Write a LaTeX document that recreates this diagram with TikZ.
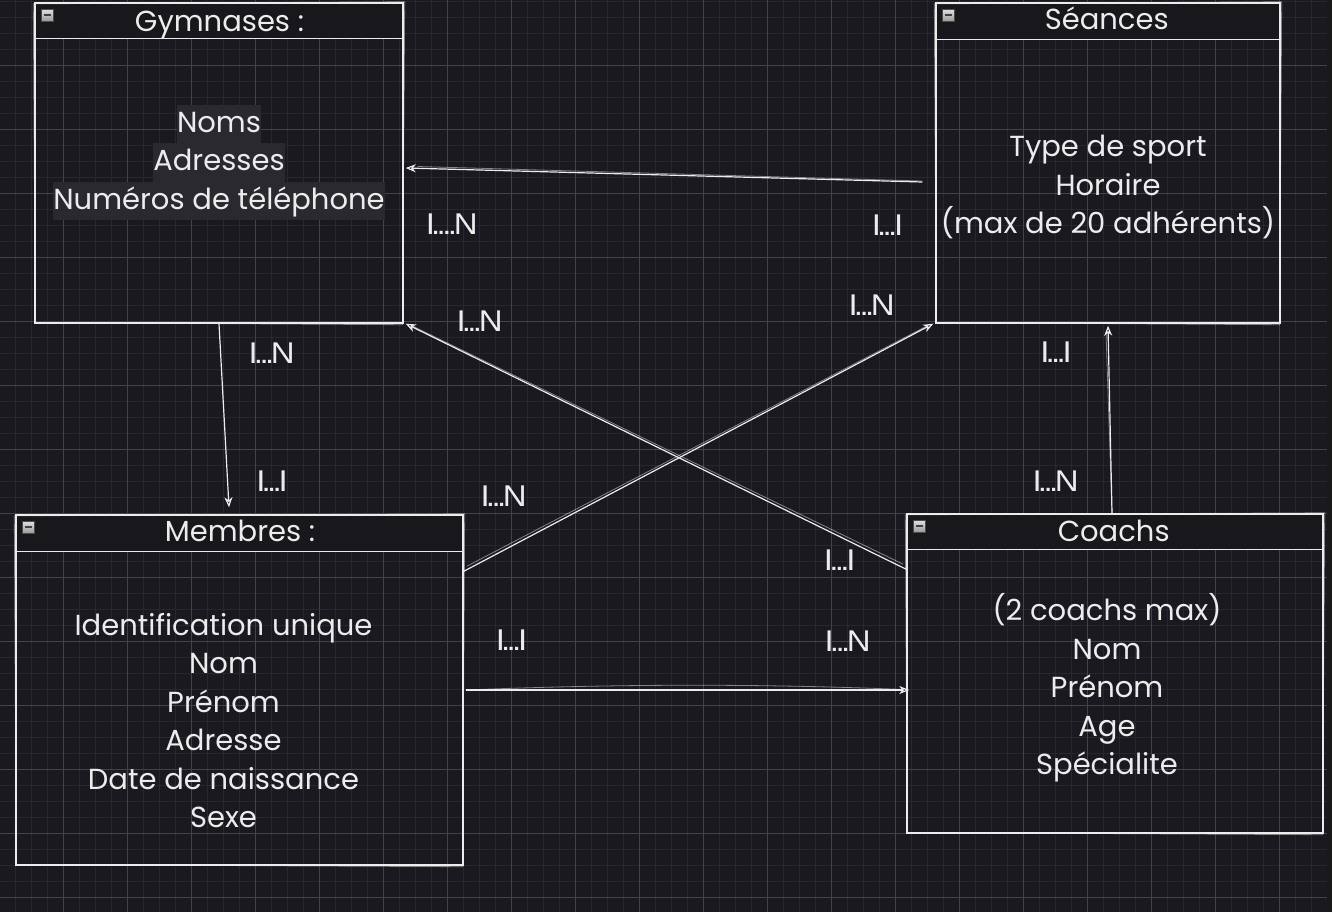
\documentclass[tikz,border=0pt]{standalone}
\usepackage{fontspec}
\setmainfont{Poppins}
\newfontfamily\labfont[FakeStretch=1.1]{Liberation Sans}
\usetikzlibrary{arrows.meta,calc}
\definecolor{bg}{HTML}{1A191F}
\definecolor{gmin}{HTML}{28272D}
\definecolor{gmaj}{HTML}{434249}
\definecolor{ink}{HTML}{ECECEC}
\definecolor{hlc}{HTML}{2A2930}
\definecolor{hdr}{HTML}{18171C}
\newcommand\lst{\rule[-11pt]{0pt}{38.5pt}}
\newcommand\hlt[1]{{\setlength{\fboxsep}{0pt}\colorbox{hlc}{\lst #1}}}
\newcommand\dts{\kern-0.13em.\kern-0.12em.\kern-0.12em.\kern-0.11em}
\newcommand\dtf{\kern-0.13em.\kern-0.12em.\kern-0.12em.\kern-0.12em.\kern-0.11em}
\tikzset{
  umlbox/.style={draw=ink, line width=1.4pt, inner sep=0pt, rectangle,
    path picture={\fill[hdr] (path picture bounding box.north west) rectangle ($(path picture bounding box.north east)+(0,#1)$);}},
  hdrline/.style={draw=ink, line width=1.4pt},
  sk/.style={draw=ink, line width=0.8pt, draw opacity=0.5},
  ttl/.style={text=ink, font=\fontsize{29}{38.5}\selectfont, anchor=base, inner sep=0pt},
  bodytxt/.style={text=ink, font=\fontsize{29}{38.5}\selectfont, align=center, anchor=north, inner sep=0pt},
  lab/.style={text=ink, font=\labfont\fontsize{30}{32}\selectfont, anchor=base, inner sep=0pt},
  conn/.style={draw=ink, line width=1.2pt, -{Stealth[open, length=10pt, width=8pt, inset=3pt]}},
  icon/.style={draw=gray!60!black, line width=0.6pt, top color=gray!25!white, bottom color=gray!80!white},
  minus/.style={draw=black!75, line width=2pt},
}
\begin{document}
\begin{tikzpicture}[x=1pt, y=-1pt]
\useasboundingbox (0,0) rectangle (1332,912);
\fill[bg] (0,0) rectangle (1332,912);
% grid
\foreach \i in {0,...,83} \draw[gmin, line width=0.9pt] ({16*\i-0.5},0) -- ({16*\i-0.5},912);
\foreach \j in {0,...,57} \draw[gmin, line width=0.9pt] (0,{16*\j+1.3}) -- (1332,{16*\j+1.3});
\foreach \i in {1,...,20} \draw[gmaj, line width=0.9pt] ({64*\i-0.5},0) -- ({64*\i-0.5},912);
\foreach \j in {1,...,14} \draw[gmaj, line width=0.9pt] (0,{64*\j+1.3}) -- (1332,{64*\j+1.3});
\fill[black!90] (1327,0) rectangle (1332,912);

% boxes
\node[umlbox=36, minimum width=368pt, minimum height=320pt] (gym) at (219,163) {};
\node[umlbox=37, minimum width=344pt, minimum height=320pt] (sea) at (1108,163) {};
\node[umlbox=37, minimum width=447pt, minimum height=350pt] (mem) at (239.5,690) {};
\node[umlbox=36, minimum width=416pt, minimum height=319pt] (coa) at (1115,673.5) {};

% sketchy second strokes
\foreach \b in {gym,sea,mem,coa}{
  \draw[sk] ($(\b.north west)+(-1,1.5)$) -- ($(\b.north east)+(1,-0.5)$)
            -- ($(\b.south east)+(-1.2,1)$) -- ($(\b.south west)+(1,-1.2)$) -- cycle;
}

\draw[hdrline] ($(gym.north west)+(0,36)$) -- ($(gym.north east)+(0,36)$);
\draw[hdrline] ($(sea.north west)+(0,37)$) -- ($(sea.north east)+(0,37)$);
\draw[hdrline] ($(mem.north west)+(0,37)$) -- ($(mem.north east)+(0,37)$);
\draw[hdrline] ($(coa.north west)+(0,36)$) -- ($(coa.north east)+(0,36)$);

% header icons
\foreach \b in {gym,sea,mem,coa}{
  \draw[icon] ($(\b.north west)+(7,7)$) rectangle ($(\b.north west)+(19,19)$);
  \draw[minus] ($(\b.north west)+(9.5,13)$) -- ($(\b.north west)+(16.5,13)$);
}

% titles
\node[ttl] (gymt) at (219.5,32) {Gymnases :};
\node[ttl] (seat) at (1106.7,30) {Séances};
\node[ttl] (memt) at (240,541.7) {Membres :};
\node[ttl] (coat) at (1113.7,541.7) {Coachs};

% bodies
\node[bodytxt] (gymb) at (219,104.5) {\hlt{Noms}\\\hlt{Adresses}\\\hlt{Numéros de téléphone}};
\node[bodytxt] (seab) at (1108,129.2) {\lst Type de sport\\\lst Horaire\\\lst (max de 20 adhérents)};
\node[bodytxt] (memb) at (223.5,607.5) {\lst Identification unique\\\lst Nom\\\lst Prénom\\\lst Adresse\\\lst Date de naissance\\\lst Sexe};
\node[bodytxt] (coab) at (1107,593.2) {\lst (2 coachs max)\\\lst Nom\\\lst Prénom\\\lst Age\\\lst Spécialite};

% connectors
\draw[conn] ($(sea.west)+(-13,19)$) -- ($(gym.east)+(2,5)$);
\draw[sk] ($(sea.west)+(-13,18)$) -- ($(gym.east)+(14,3.5)$);
\draw[conn] (gym.south) -- ($(mem.north)+(-10.5,-7)$);
\draw[conn] ($(coa.north west)+(0,56)$) -- ($(gym.south east)+(2,0)$);
\draw[sk] ($(coa.north west)+(-3,51)$) -- ($(gym.south east)+(6,1)$);
\draw[conn] ($(mem.north east)+(0,57)$) -- ($(sea.south west)+(-2,0)$);
\draw[sk] ($(mem.north east)+(3,52)$) -- ($(sea.south west)+(-6,1)$);
\draw[conn] ($(mem.east)+(2,0)$) -- ($(coa.west)+(3,16.5)$);
\draw[sk] ($(mem.east)+(2,0)$) .. controls ($(mem.east)+(150,-6)$) and ($(coa.west)+(-150,10)$) .. ($(coa.west)+(-2,16)$);
\draw[conn] ($(coa.north)+(-3,0)$) -- ($(sea.south)+(0,2)$);
\draw[sk] ($(coa.north)+(-3,0)$) -- ($(sea.south)+(-2,8)$);

% cardinality labels
\node[lab] (l1a) at (451.7,234.3) {I\dtf N};
\node[lab] (l1b) at (887.5,235) {I\dts I};
\node[lab] (l2a) at (271.7,363.3) {I\dts N};
\node[lab] (l2b) at (272,491) {I\dts I};
\node[lab] (l3a) at (479.6,331.7) {I\dts N};
\node[lab] (l3b) at (839.7,570.7) {I\dts I};
\node[lab] (l4a) at (871.7,315.7) {I\dts N};
\node[lab] (l4b) at (503.7,506.7) {I\dts N};
\node[lab] (l5a) at (511.5,650.7) {I\dts I};
\node[lab] (l5b) at (847.7,651.7) {I\dts N};
\node[lab] (l6a) at (1056,362.7) {I\dts I};
\node[lab] (l6b) at (1055.7,491.7) {I\dts N};
\end{tikzpicture}
\end{document}
